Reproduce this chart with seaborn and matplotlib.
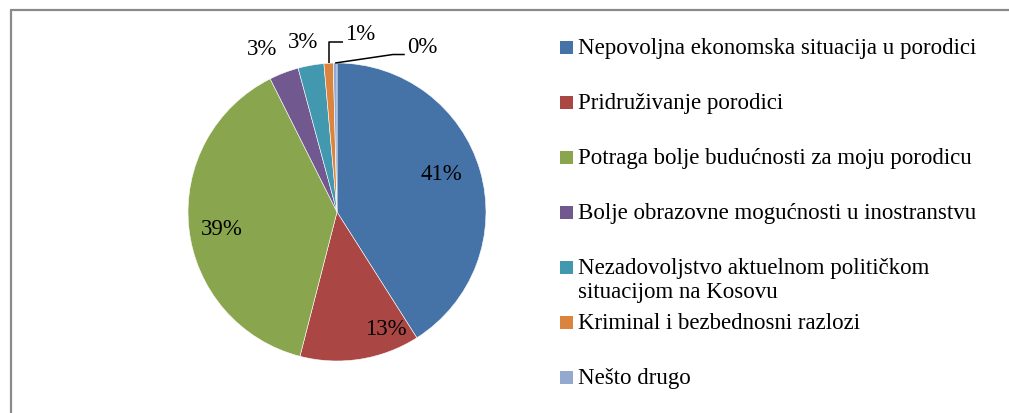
import numpy as np
import matplotlib
matplotlib.use("Agg")
import matplotlib.pyplot as plt
from matplotlib.lines import Line2D
import seaborn as sns

categories = [
    "Nepovoljna ekonomska situacija u porodici",
    "Pridruživanje porodici",
    "Potraga bolje budućnosti za moju porodicu",
    "Bolje obrazovne mogućnosti u inostranstvu",
    "Nezadovoljstvo aktuelnom političkom\nsituacijom na Kosovu",
    "Kriminal i bezbednosni razlozi",
    "Nešto drugo",
]
shares = [41.0, 13.0, 38.6, 3.2, 2.8, 1.0, 0.4]
colors = ["#4572A7", "#AA4643", "#89A54E", "#71588F", "#4198AF", "#DB843D", "#93A9CF"]

# label placement in pie-radius units (text anchors, not data)
label_pos = [(0.70, 0.25), (0.33, -0.79), (-0.77, -0.12),
             (-0.50, 1.09), (-0.23, 1.14), (0.055, 1.19), (0.47, 1.107)]
leader = [False, False, False, False, False, True, True]

W, H = 1009, 413
CX, CY, R = 337, 212, 149

sns.set_theme(style="white")
plt.rcParams["font.family"] = ["Liberation Serif", "DejaVu Serif"]

fig = plt.figure(figsize=(W / 100, H / 100), dpi=100)
fig.patch.set_facecolor("white")

# pie axes: 1 data unit == R pixels
aw = 545
ax = fig.add_axes([0, 0, aw / W, 1])
wedges, _ = ax.pie(shares, colors=colors, startangle=90, counterclock=False,
                   radius=1, wedgeprops=dict(edgecolor="white", linewidth=0.4))
ax.set_xlim(-CX / R, (aw - CX) / R)
ax.set_ylim((CY - H) / R, CY / R)
ax.set_aspect("auto")
ax.axis("off")

fs = 16.5
for w, val, (lx, ly), lead in zip(wedges, shares, label_pos, leader):
    txt = f"{int(round(val))}%"
    if lead:
        mid = np.deg2rad((w.theta1 + w.theta2) / 2)
        sx, sy = np.cos(mid), np.sin(mid)
        ex, ey = lx - 0.015, ly - 0.05
        if sx < -0.03:
            pts = [(sx, sy), (sx, ey), (ex, ey)]
        else:
            pts = [(sx, sy), (ex - 0.08, ey), (ex, ey)]
        xs, ys = zip(*pts)
        ax.plot(xs, ys, color="black", lw=1.1, solid_capstyle="butt")
        ax.text(lx, ly, txt, ha="left", va="center", fontsize=fs, color="black")
    else:
        ax.text(lx, ly, txt, ha="center", va="center", fontsize=fs, color="black")


def fx(x):
    return x / W


def fy(y):
    return 1 - y / H


# legend drawn with a fixed pitch like the source
y0, step = 47, 55
for i, (lab, c) in enumerate(zip(categories, colors)):
    yc = y0 + i * step
    fig.patches.append(matplotlib.patches.Rectangle(
        (fx(560), fy(yc + 6.5)), 13 / W, 13 / H, transform=fig.transFigure,
        facecolor=c, edgecolor="none"))
    for j, line in enumerate(lab.split("\n")):
        fig.text(fx(578), fy(yc + 7 + j * 24), line, ha="left", va="baseline",
                 fontsize=fs, color="black")

# outer frame
frame = "#8a8a8a"
fig.add_artist(Line2D([fx(11), fx(11)], [fy(10), 0], transform=fig.transFigure,
                      color=frame, lw=1.6))
fig.add_artist(Line2D([fx(11), 1], [fy(10), fy(10)], transform=fig.transFigure,
                      color=frame, lw=1.6))

fig.savefig("out.png", dpi=100, facecolor="white")
